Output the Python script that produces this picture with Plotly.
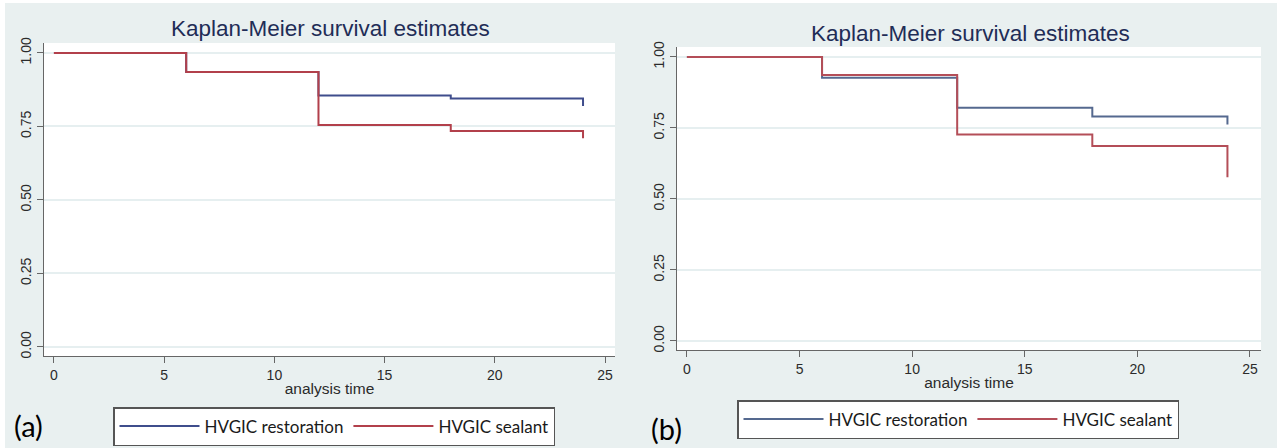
import plotly.graph_objects as go

W, H = 1277, 448

# ---------------- data ----------------
times = [0, 6, 12, 18, 24]
series_names = ["HVGIC restoration", "HVGIC sealant"]
# panel (a)
a_restoration = [1.0, 0.935, 0.855, 0.845, 0.82]
a_sealant = [1.0, 0.935, 0.755, 0.735, 0.71]
# panel (b)
b_restoration = [1.0, 0.927, 0.821, 0.790, 0.762]
b_sealant = [1.0, 0.936, 0.727, 0.686, 0.576]

x_ticks = [0, 5, 10, 15, 20, 25]
y_ticks = [0.0, 0.25, 0.5, 0.75, 1.0]
y_ticklabels = ["0.00", "0.25", "0.50", "0.75", "1.00"]
title_text = "Kaplan-Meier survival estimates"
x_title = "analysis time"
panel_labels = ["(a)", "(b)"]

# ---------------- style ----------------
BG = "#e9f0f0"
BLUE_A, RED_A = "#3f4d8c", "#b2404b"
BLUE_B, RED_B = "#55698f", "#b44e58"
TICKFONT = dict(family="Liberation Sans, Arial", size=14, color="#2b2b2b")
LEGFONT = dict(family="Lato, Liberation Sans", size=17, color="#1a1a1a")


def px_x(p):
    return p / W


def px_y(p):
    return 1 - p / H


fig = go.Figure()

panels = [
    ("x", "y", "legend", a_restoration, a_sealant, BLUE_A, RED_A),
    ("x2", "y2", "legend2", b_restoration, b_sealant, BLUE_B, RED_B),
]
for xa, ya, lg, rest, seal, cb, cr in panels:
    fig.add_trace(go.Scatter(x=times, y=rest, mode="lines", line_shape="hv",
                             line=dict(color=cb, width=2), name=series_names[0],
                             xaxis=xa, yaxis=ya, legend=lg))
    fig.add_trace(go.Scatter(x=times, y=seal, mode="lines", line_shape="hv",
                             line=dict(color=cr, width=2), name=series_names[1],
                             xaxis=xa, yaxis=ya, legend=lg))

xcommon = dict(tickmode="array", tickvals=x_ticks, ticks="outside", ticklen=6,
               tickcolor="#666666", showline=True, linecolor="#666666", linewidth=1,
               showgrid=False, zeroline=False, tickfont=TICKFONT,
               title=dict(text=x_title, font=dict(family="Liberation Sans, Arial", size=15.5,
                                                  color="#2b2b2b"), standoff=1))
ycommon = dict(tickmode="array", tickvals=y_ticks, ticktext=y_ticklabels, ticks="outside",
               ticklen=6, tickcolor="#666666", showline=True, linecolor="#666666",
               linewidth=1, showgrid=True, gridcolor="#e6eff0", gridwidth=1.5,
               zeroline=False, tickangle=-90, tickfont=TICKFONT)

legcommon = dict(orientation="h", bgcolor="white", bordercolor="#555555", borderwidth=1.5,
                 font=LEGFONT, xanchor="left", yanchor="top", itemwidth=80,
                 itemclick=False, itemdoubleclick=False)

fig.update_layout(
    width=W, height=H,
    margin=dict(l=0, r=0, t=0, b=0, autoexpand=False),
    paper_bgcolor=BG, plot_bgcolor="white",
    xaxis=dict(domain=[px_x(44), px_x(615)], range=[-0.45, 25.45], anchor="y", **xcommon),
    yaxis=dict(domain=[px_y(356), px_y(43)], range=[-0.031, 1.034], anchor="x", **ycommon),
    xaxis2=dict(domain=[px_x(677), px_x(1261)], range=[-0.44, 25.49], anchor="y2", **xcommon),
    yaxis2=dict(domain=[px_y(350), px_y(47)], range=[-0.032, 1.035], anchor="x2", **ycommon),
    legend=dict(x=px_x(113), y=px_y(407), **legcommon),
    legend2=dict(x=px_x(737), y=px_y(400), **legcommon),
    showlegend=True,
)

# white outer edge strips
fig.add_shape(type="rect", xref="paper", yref="paper", x0=0, x1=1, y0=px_y(3), y1=1,
              fillcolor="white", line_width=0, layer="below")
fig.add_shape(type="rect", xref="paper", yref="paper", x0=0, x1=px_x(5), y0=0, y1=1,
              fillcolor="white", line_width=0, layer="below")

# titles
for cx, cy in [(330, 28), (970, 33)]:
    fig.add_annotation(text=title_text, xref="paper", yref="paper", x=px_x(cx), y=px_y(cy),
                       xanchor="center", yanchor="middle", showarrow=False,
                       font=dict(family="Liberation Sans, Arial", size=22.5, color="#1f2d57"))

# panel labels
for lab, cx, cy in [(panel_labels[0], 28, 425), (panel_labels[1], 666, 428)]:
    fig.add_annotation(text=lab, xref="paper", yref="paper", x=px_x(cx), y=px_y(cy),
                       xanchor="center", yanchor="middle", showarrow=False,
                       font=dict(family="Lato, Liberation Sans", size=29, color="#000000"))

fig.write_html("out.html",
               config={"displayModeBar": False},
               post_script="document.body.style.margin='0px';"
                           "document.body.style.overflow='hidden';")
